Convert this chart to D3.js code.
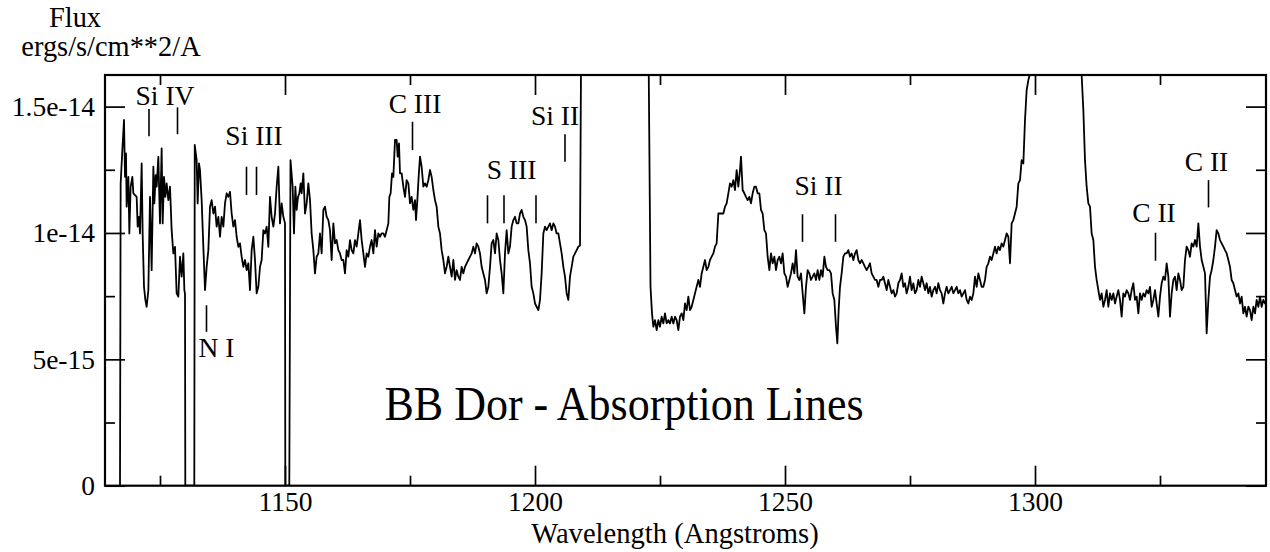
<!DOCTYPE html>
<html><head><meta charset="utf-8">
<script src="https://cdn.jsdelivr.net/npm/d3@7"></script>
<style>
body{margin:0;background:#fff}
svg{display:block}
text{font-family:"Liberation Serif","Times New Roman",Times,serif;fill:#000}
</style>
</head><body>
<svg id="chart" width="1270" height="552"></svg>
<script>
// Spectrum: wavelength (Angstroms) and flux (units of 1e-15 ergs/s/cm**2/A)
const wavelength = [
1117.0,1117.13,1117.47,1117.8,1118.0,1118.2,1118.33,1118.67,1118.87,1119.13,1119.47,1119.67,1120.0,1120.33,1120.53,1120.8,1121.0,1121.33,1121.53,1121.8,1122.07,1122.33,1122.67,1123.0,1123.33,1123.67,1123.87,1124.13,1124.33,1124.67,1125.0,1125.33,1125.53,1125.8,1126.07,1126.33,1126.67,1127.0,1127.33,1127.67,1128.0,1128.33,1128.67,1129.0,1129.33,1129.67,1129.87,1130.0,1130.06,
1131.86,1131.95,1132.33,1132.53,1132.8,1133.0,1133.33,1133.67,1134.0,1134.33,1134.67,1135.0,1135.33,1135.67,1136.0,1136.33,1136.67,1137.0,1137.33,1137.67,1138.0,1138.33,1138.67,1139.0,1139.33,1139.67,1140.0,1140.33,1140.67,1141.0,1141.33,1141.67,1142.0,1142.33,1142.67,1143.0,1143.33,1143.67,1144.0,1144.33,1144.67,1145.0,1145.33,1145.67,1146.0,1146.33,1146.67,1147.0,1147.33,1147.67,1148.0,1148.33,1148.67,1149.0,1149.33,1149.67,1150.0,1150.06,
1150.86,1151.1,1151.53,1151.8,1152.07,1152.33,1152.6,1152.87,1153.13,1153.33,1153.67,1154.0,1154.33,1154.67,1155.0,1155.33,1155.67,1156.0,1156.33,1156.67,1157.0,1157.33,1157.67,1158.0,1158.33,1158.67,1159.0,1159.33,1159.67,1160.0,1160.33,1160.67,1161.0,1161.33,1161.67,1162.0,1162.33,1162.67,1163.0,1163.33,1163.67,1164.0,1164.33,1164.67,1165.0,1165.33,1165.67,1166.0,1166.33,1166.67,1167.0,1167.33,1167.67,1168.0,1168.33,1168.67,1169.0,1169.33,1169.67,1170.0,1170.33,1170.67,1170.87,
1171.13,1171.4,1171.67,1172.0,1172.33,1172.53,1172.8,1173.0,1173.33,1173.67,1174.0,1174.33,1174.67,1175.0,1175.33,1175.67,1176.0,1176.2,1176.47,1176.73,1177.0,1177.33,1177.67,1178.0,1178.33,1178.67,1179.0,1179.33,1179.67,1180.0,1180.33,1180.67,1181.0,1181.33,1181.67,1182.0,1182.33,1182.67,1183.0,1183.33,1183.67,1184.0,1184.33,1184.67,1185.0,1185.33,1185.67,1186.0,1186.33,1186.67,1187.0,1187.33,1187.67,1188.0,1188.33,1188.67,1189.0,1189.33,1189.67,1190.0,
1190.33,1190.67,1191.0,1191.33,1191.67,1192.0,1192.33,1192.67,1193.0,1193.33,1193.67,1194.0,1194.33,1194.67,1195.0,1195.33,1195.67,1196.0,1196.33,1196.67,1197.0,1197.33,1197.67,1198.0,1198.33,1198.67,1199.0,1199.33,1199.67,1200.0,1200.33,1200.67,1201.0,1201.33,1201.67,1202.0,1202.33,1202.67,1203.0,1203.33,1203.67,1204.0,1204.33,1204.67,1205.0,1205.33,1205.67,1206.0,1206.33,1206.67,1207.0,1207.33,1207.67,1208.0,1208.33,1208.67,1209.0,
1209.3,1212.0,1215.7,1219.0,1222.6,1222.75,1223.1,1223.4,
1223.67,1224.0,1224.33,1224.67,1225.0,1225.33,1225.67,1226.0,1226.33,1226.67,1227.0,1227.33,1227.67,1228.0,1228.33,1228.67,1229.0,1229.33,1229.67,1230.0,1230.33,1230.67,1231.0,1231.33,1231.67,1232.0,1232.33,1232.67,1233.0,1233.33,1233.67,1234.0,1234.33,1234.67,1235.0,1235.33,1235.67,1236.0,1236.33,1236.67,1237.0,1237.33,1237.67,1238.0,1238.33,1238.67,1239.0,1239.33,1239.67,1240.0,1240.33,1240.67,1241.0,1241.2,1241.53,1241.87,
1242.2,1242.53,1242.87,1243.2,1243.53,1243.87,1244.2,1244.53,1244.87,1245.2,1245.53,1245.87,1246.2,1246.53,1246.87,1247.2,1247.53,1247.87,1248.2,1248.53,1248.87,1249.2,1249.53,1249.87,1250.2,1250.53,1250.87,1251.2,1251.53,1251.87,1252.2,1252.53,1252.87,1253.2,1253.53,1253.87,1254.2,1254.53,1254.87,1255.2,1255.53,1255.87,1256.2,1256.53,1256.87,1257.2,1257.53,1257.87,1258.2,1258.53,1258.87,1259.2,1259.53,1259.87,1260.2,1260.47,1260.73,
1261.0,1261.33,1261.67,1262.0,1262.33,1262.67,1263.0,1263.33,1263.67,1264.0,1264.33,1264.67,1265.0,1265.33,1265.67,1266.0,1266.33,1266.67,1267.0,1267.33,1267.67,1268.0,1268.33,1268.67,1269.0,1269.33,1269.67,1270.0,1270.33,1270.67,1271.0,1271.33,1271.67,1272.0,1272.33,1272.67,1273.0,
1273.33,1273.67,1274.0,1274.33,1274.67,1275.0,1275.33,1275.67,1276.0,1276.33,1276.67,1277.0,1277.33,1277.67,1278.0,1278.33,1278.67,1279.0,1279.33,1279.67,1280.0,1280.33,1280.67,1281.0,1281.33,1281.67,1282.0,1282.33,1282.67,1283.0,1283.33,1283.67,1284.0,1284.33,1284.67,1285.0,1285.33,1285.67,1286.0,1286.33,1286.67,1287.0,1287.33,1287.67,
1288.0,1288.33,1288.67,1289.0,1289.33,1289.67,1290.0,1290.33,1290.67,1291.0,1291.33,1291.67,1292.0,1292.33,1292.67,1293.0,1293.33,1293.67,1294.0,1294.33,1294.67,1295.0,1295.33,1295.67,1296.0,1296.33,1296.67,1297.0,1297.33,1297.67,1298.0,1298.33,1298.67,1299.0,
1299.3,1302.0,1304.5,1307.0,1309.1,
1309.33,1309.67,1310.0,1310.33,1310.67,1311.0,1311.33,1311.67,1312.0,1312.33,1312.67,1313.0,1313.33,1313.67,1314.0,1314.33,1314.67,1315.0,1315.33,1315.67,1316.0,1316.33,1316.67,1317.0,1317.33,1317.67,1318.0,1318.33,1318.67,1319.0,1319.33,1319.67,1320.0,1320.33,1320.67,1321.0,1321.33,1321.67,1322.0,1322.33,1322.67,1323.0,1323.33,1323.67,1324.0,1324.33,1324.67,1325.0,
1325.33,1325.67,1326.0,1326.33,1326.67,1327.0,1327.33,1327.67,1328.0,1328.33,1328.67,1329.0,1329.33,1329.67,1330.0,1330.33,1330.67,1331.0,1331.33,1331.67,1332.0,1332.33,1332.67,1333.0,1333.33,1333.67,1334.0,1334.33,1334.67,1335.0,1335.33,1335.67,1336.0,1336.33,1336.67,1337.0,1337.33,1337.67,1338.0,1338.33,1338.67,1339.0,1339.33,1339.67,1340.0,1340.33,1340.67,1341.0,1341.33,1341.67,1342.0,1342.33,1342.67,1343.0,1343.33,1343.67,1344.0,1344.33,1344.67,1345.0,1345.33,1345.67,1346.0,1346.2
];
const flux = [
0,11.96,13.28,14.47,12.22,13.15,11.04,12.22,9.98,11.83,12.22,11.57,11.5,11.43,10.25,10.64,9.98,12.75,9.98,7.87,7.35,7.08,7.74,11.43,8.53,12.62,11.17,12.29,11.83,13.01,10.38,13.35,10.38,12.22,11.43,11.96,11.3,11.83,10.11,9.19,9.45,7.61,7.48,9.06,8.27,9.19,7.74,7.6,0,
0,13.48,12.88,11.17,12.75,12.49,11.3,9.45,7.74,8.66,9.32,11.04,11.3,10.77,11.04,10.25,10.64,9.85,10.64,10.25,11.17,11.57,11.43,11.63,10.77,10.25,10.51,9.85,9.45,9.59,9.06,8.66,8.93,8.53,8.8,7.74,9.32,9.85,8.93,7.61,7.87,8.66,8.93,10.11,9.98,10.25,9.45,11.43,10.64,10.25,10.77,11.83,12.62,10.38,11.17,10.64,10.38,0,
0,12.88,11.83,9.98,11.83,10.91,11.43,11.57,11.96,11.57,12.36,10.77,11.17,11.96,11.3,9.98,9.32,8.4,9.06,9.19,9.98,9.19,10.91,11.04,10.64,10.51,10.11,8.93,10.38,9.59,9.72,9.32,9.19,8.93,8.93,8.4,9.32,9.06,9.72,9.32,9.19,9.72,9.46,9.98,10.51,9.72,9.19,8.66,9.19,9.06,9.46,9.72,9.19,10.11,9.46,9.98,9.85,9.98,9.98,9.85,10.11,10.38,11.43,
11.57,12.36,12.22,13.68,13.68,13.02,13.54,12.36,12.36,11.83,11.43,12.09,11.96,11.17,11.43,10.91,11.3,10.51,11.3,12.22,13.02,12.62,11.83,11.96,11.83,12.09,12.49,12.22,11.7,11.3,11.04,10.25,9.98,9.32,8.93,8.4,8.66,9.06,8.66,8.27,8.93,8.14,8.53,8.27,8.14,8.66,8.4,8.66,8.8,8.93,9.06,9.19,9.46,9.19,9.59,9.46,9.19,8.66,8.4,8.14,
7.61,7.87,8.66,9.59,9.72,9.19,9.98,9.72,8.93,8.4,7.61,9.19,10.11,9.19,9.46,10.25,10.51,10.64,10.38,10.38,10.77,10.91,10.64,10.51,10.25,9.32,8.8,7.87,7.61,7.21,7.08,6.95,7.35,8.4,9.98,10.25,10.11,10.25,10.38,10.11,10.38,10.25,9.98,9.98,9.59,9.19,8.66,8.27,7.61,7.35,8.27,8.66,9.06,9.19,9.32,9.46,9.5,
20,35,60,35,20,16.3,7.87,6.82,
6.29,6.55,6.16,6.55,6.29,6.69,6.42,6.82,6.42,6.55,6.42,6.69,6.42,6.69,6.55,6.16,6.69,6.82,6.55,7.21,6.95,7.48,6.95,7.08,7.35,7.61,7.87,8.14,7.87,8.4,8.66,8.93,8.53,8.66,8.93,9.06,9.19,9.46,9.59,10.77,10.77,10.77,10.77,11.04,11.17,11.57,11.96,11.83,12.09,11.7,12.49,11.83,12.49,13.02,11.7,11.57,
11.43,11.3,11.43,11.17,11.57,11.83,11.83,11.57,11.57,10.91,10.77,10.11,9.98,9.06,8.53,9.19,8.8,9.06,8.53,8.93,9.06,8.8,9.19,8.4,8.27,7.87,8.14,8.4,8.8,8.4,9.32,8.27,8.14,8.4,7.61,6.82,7.87,8.53,8.4,8.14,8.27,8.4,8.14,8.53,8.14,8.53,8.27,9.06,8.66,8.53,8.53,8.4,7.61,7.35,6.29,5.63,6.95,
7.87,8.4,9.06,9.19,9.19,9.32,9.06,9.19,8.93,9.19,9.32,8.93,8.8,8.93,8.8,8.66,8.53,8.66,8.8,8.4,8.27,8.14,8.14,7.87,8.14,8.14,8.27,8.01,7.74,8.14,7.87,7.61,7.74,7.48,7.61,8.01,8.14,
8.4,7.87,8.01,7.61,7.87,8.27,7.74,8.01,7.61,7.74,8.14,7.87,8.27,8.01,7.74,8.01,7.61,7.87,7.48,7.74,7.87,7.61,8.01,7.74,7.61,7.21,7.61,7.87,7.61,7.74,7.87,7.61,7.74,7.87,7.61,7.74,7.48,7.61,7.74,7.35,7.21,7.48,7.35,7.61,
8.27,7.87,8.4,8.14,7.87,7.87,8.14,8.66,8.8,9.06,8.93,9.19,9.46,9.19,9.46,9.32,9.59,9.46,9.72,9.98,9.85,8.8,10.38,10.51,10.77,11.04,11.96,12.09,12.88,12.75,14.47,15.65,16.05,16.31,
20,30,40,30,20,
16.25,14.86,12.88,11.83,11.17,11.04,9.98,9.72,8.66,8.14,7.74,7.35,7.61,7.08,7.35,7.74,7.08,7.61,7.35,7.61,7.21,7.48,7.74,7.35,6.69,7.61,7.48,7.74,7.61,7.35,7.74,8.01,7.35,7.48,6.82,7.61,7.35,7.61,7.48,7.74,7.61,7.87,7.08,7.35,7.74,7.21,6.69,7.48,
8.01,8.27,8.14,8.8,8.27,6.69,7.61,8.14,8.27,7.74,8.4,8.14,7.74,7.87,8.93,9.46,9.32,9.06,9.59,9.46,9.72,9.46,10.38,9.46,8.93,8.66,8.4,6.03,7.35,8.27,8.53,8.93,9.46,10.11,9.98,9.72,9.59,9.46,9.32,9.19,8.93,8.66,8.14,8.01,7.74,7.48,7.61,7.21,7.48,6.82,7.08,6.69,7.08,6.95,6.55,7.08,6.82,7.35,7.08,7.48,7.08,7.35,7.21,7.3
];
const fluxUnit = 1e-15;

// Axes
const xDomain = [1114, 1346.2];
const yDomain = [0, 16.25e-15];
const xMajorTicks = [1150, 1200, 1250, 1300];
const xMajorLabels = ["1150", "1200", "1250", "1300"];
const xMinorTicks = [1125, 1175, 1225, 1275, 1325];
const yMajorTicks = [0, 5e-15, 1e-14, 1.5e-14];
const yMajorLabels = ["0", "5e-15", "1e-14", "1.5e-14"];
const yMinorTicks = [2.5e-15, 7.5e-15, 1.25e-14];

// Line identifications (label text, wavelength of label centre, flux of label baseline in 1e-15)
const lineLabels = ["Si IV", "N I", "Si III", "C III", "S III", "Si II", "Si II", "C II", "C II"];
const labelWave = [1126.0, 1136.3, 1143.8, 1176.0, 1195.3, 1204.0, 1256.7, 1323.8, 1334.3];
const labelFlux = [15.06, 5.10, 13.48, 14.73, 12.12, 14.27, 11.5, 10.44, 12.46];
// Marker ticks (wavelength, low flux, high flux in 1e-15)
const markWave = [1122.8, 1128.5, 1134.3, 1142.3, 1144.3, 1175.5, 1190.5, 1193.8, 1200.2, 1206.0, 1253.5, 1260.1, 1324.1, 1334.7];
const markLow  = [13.83, 13.91, 6.09, 11.5, 11.5, 13.28, 10.38, 10.38, 10.38, 12.82, 9.65, 9.65, 8.9, 11.01];
const markHigh = [14.9, 14.97, 7.14, 12.62, 12.62, 14.4, 11.49, 11.49, 11.49, 13.91, 10.74, 10.74, 10.01, 12.09];

const titleText = "BB Dor - Absorption Lines";
const xTitle = "Wavelength (Angstroms)";
const yTitle1 = "Flux";
const yTitle2 = "ergs/s/cm**2/A";

// Layout
const L = 105, R = 1266, T = 75, B = 485.7;
const svg = d3.select("#chart");
const x = d3.scaleLinear().domain(xDomain).range([L, R]);
const y = d3.scaleLinear().domain(yDomain).range([B, T]);
const FS = 27.5;
const FONT = '"Liberation Serif","Times New Roman",serif';

svg.append("defs").append("clipPath").attr("id", "plotclip")
  .append("rect").attr("x", L).attr("y", T).attr("width", R - L).attr("height", B - T);

// spectrum
const pts = d3.zip(wavelength, flux);
const line = d3.line().x(d => x(d[0])).y(d => y(d[1] * fluxUnit));
svg.append("path").datum(pts)
  .attr("clip-path", "url(#plotclip)")
  .attr("d", line)
  .attr("fill", "none").attr("stroke", "#000").attr("stroke-width", 1.8)
  .attr("stroke-linejoin", "round");

function styleAxis(g) {
  g.select(".domain").remove();
  g.selectAll(".tick line").attr("stroke", "#000").attr("stroke-width", 1.7);
  g.selectAll("text").attr("font-family", FONT).attr("font-size", FS).attr("fill", "#000");
  g.attr("font-family", null).attr("font-size", null);
}

// bottom
svg.append("g").attr("transform", `translate(0,${B})`)
  .call(d3.axisBottom(x).tickValues(xMajorTicks).tickSize(-20).tickPadding(6)
    .tickFormat((d, i) => xMajorLabels[i])).call(styleAxis);
svg.append("g").attr("transform", `translate(0,${B})`)
  .call(d3.axisBottom(x).tickValues(xMinorTicks).tickSize(-10).tickFormat("")).call(styleAxis);
// top
svg.append("g").attr("transform", `translate(0,${T})`)
  .call(d3.axisTop(x).tickValues(xMajorTicks).tickSize(-20).tickFormat("")).call(styleAxis);
svg.append("g").attr("transform", `translate(0,${T})`)
  .call(d3.axisTop(x).tickValues(xMinorTicks).tickSize(-10).tickFormat("")).call(styleAxis);
// left
svg.append("g").attr("transform", `translate(${L},0)`)
  .call(d3.axisLeft(y).tickValues(yMajorTicks).tickSize(-20).tickPadding(10)
    .tickFormat((d, i) => yMajorLabels[i])).call(styleAxis);
svg.append("g").attr("transform", `translate(${L},0)`)
  .call(d3.axisLeft(y).tickValues(yMinorTicks).tickSize(-10).tickFormat("")).call(styleAxis);
// right
svg.append("g").attr("transform", `translate(${R},0)`)
  .call(d3.axisRight(y).tickValues(yMajorTicks).tickSize(-20).tickFormat("")).call(styleAxis);
svg.append("g").attr("transform", `translate(${R},0)`)
  .call(d3.axisRight(y).tickValues(yMinorTicks).tickSize(-10).tickFormat("")).call(styleAxis);

// frame
svg.append("rect").attr("x", L).attr("y", T).attr("width", R - L).attr("height", B - T)
  .attr("fill", "none").attr("stroke", "#000").attr("stroke-width", 2.2);

// line markers
svg.append("g").selectAll("line").data(d3.range(markWave.length)).join("line")
  .attr("x1", i => x(markWave[i])).attr("x2", i => x(markWave[i]))
  .attr("y1", i => y(markLow[i] * fluxUnit)).attr("y2", i => y(markHigh[i] * fluxUnit))
  .attr("stroke", "#000").attr("stroke-width", 1.6);

svg.append("g").selectAll("text").data(d3.range(lineLabels.length)).join("text")
  .attr("x", i => x(labelWave[i])).attr("y", i => y(labelFlux[i] * fluxUnit))
  .attr("text-anchor", "middle").attr("font-size", FS)
  .text(i => lineLabels[i]);

// titles
svg.append("text").attr("transform", "translate(624,420) scale(1,1.1)")
  .attr("text-anchor", "middle").attr("font-size", 44).text(titleText);
svg.append("text").attr("x", 675).attr("y", 543).attr("text-anchor", "middle")
  .attr("font-size", 28.6).text(xTitle);
svg.append("text").attr("x", 75).attr("y", 27).attr("text-anchor", "middle")
  .attr("font-size", 28.4).text(yTitle1);
svg.append("text").attr("x", 111).attr("y", 56).attr("text-anchor", "middle")
  .attr("font-size", 28.4).text(yTitle2);
</script>
</body></html>
